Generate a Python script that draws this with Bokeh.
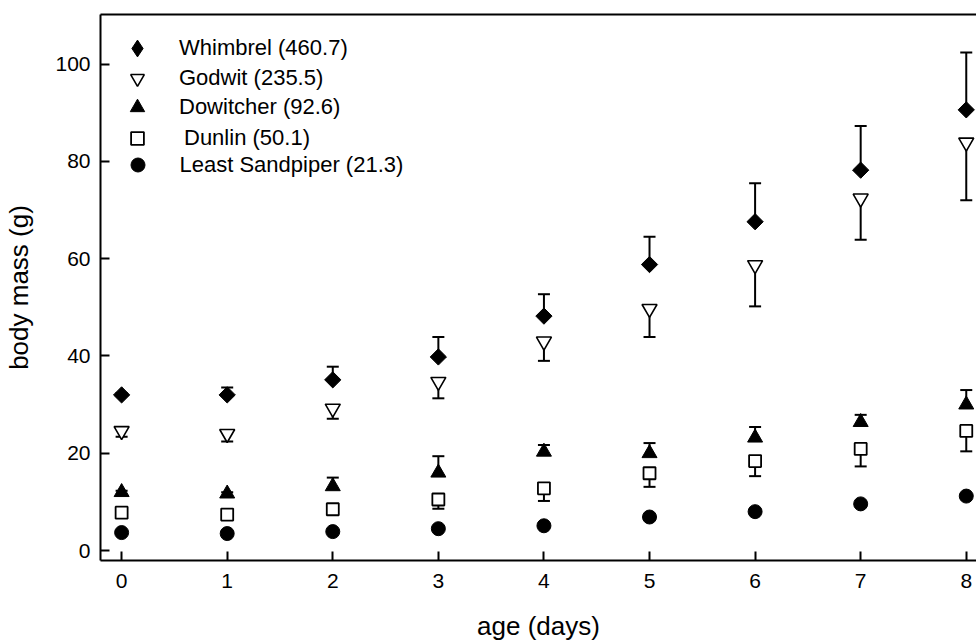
from bokeh.plotting import figure
from bokeh.models import (ColumnDataSource, Whisker, TeeHead, Legend, LegendItem,
                          LinearAxis, FixedTicker, Range1d)
from bokeh.embed import file_html
from bokeh.resources import INLINE

# Body mass (g) of shorebird chicks by age; adult mass in the legend
days = [0, 1, 2, 3, 4, 5, 6, 7, 8]

whimbrel = [32.0, 32.0, 35.1, 39.8, 48.2, 58.8, 67.6, 78.2, 90.6]
whimbrel_se = [0.4, 1.5, 2.7, 4.1, 4.5, 5.7, 7.9, 9.1, 11.8]

godwit = [24.6, 24.0, 29.2, 34.7, 43.0, 49.7, 58.7, 72.4, 83.9]
godwit_se = [1.2, 1.6, 2.1, 3.4, 4.0, 5.8, 8.5, 8.5, 11.9]

dowitcher = [12.0, 11.7, 13.2, 16.0, 20.3, 20.0, 23.2, 26.4, 30.0]
dowitcher_se = [0.3, 0.3, 1.8, 3.4, 1.4, 2.1, 2.2, 1.5, 3.0]

dunlin = [7.8, 7.4, 8.5, 10.5, 12.8, 15.9, 18.4, 20.9, 24.6]
dunlin_se = [0.3, 0.3, 1.2, 1.9, 2.6, 2.8, 3.1, 3.6, 4.2]

sandpiper = [3.7, 3.5, 3.9, 4.5, 5.1, 6.9, 8.0, 9.6, 11.2]

labels = ["Whimbrel (460.7)", "Godwit (235.5)", "Dowitcher (92.6)",
          "Dunlin (50.1)", "Least Sandpiper (21.3)"]

FONT = "Liberation Sans"

p = figure(width=976, height=643, output_backend="svg", toolbar_location=None,
           x_range=Range1d(-0.2, 8.097), y_range=Range1d(-2.04, 110.2),
           min_border_left=100, min_border_right=0, min_border_top=14,
           min_border_bottom=79)
p.outline_line_color = None
p.grid.visible = False
p.background_fill_color = "white"

# axes
p.xaxis.ticker = FixedTicker(ticks=days)
p.yaxis.ticker = FixedTicker(ticks=[0, 20, 40, 60, 80, 100])
for ax in (p.xaxis[0], p.yaxis[0]):
    ax.axis_line_width = 2
    ax.axis_line_color = "black"
    ax.major_tick_line_width = 2
    ax.major_tick_line_color = "black"
    ax.major_tick_in = 9
    ax.major_tick_out = 0
    ax.minor_tick_line_color = None
    ax.major_label_text_font = FONT
    ax.major_label_text_font_size = "21px"
    ax.major_label_text_color = "black"
    ax.axis_label_text_font = FONT
    ax.axis_label_text_font_size = "26px"
    ax.axis_label_text_font_style = "normal"
    ax.axis_label_text_color = "black"
p.xaxis.axis_label = "age (days)"
p.yaxis.axis_label = "body mass (g)"
p.xaxis.major_label_standoff = 13
p.xaxis.axis_label_standoff = 20
p.yaxis.major_label_standoff = 10
p.yaxis.axis_label_standoff = 18

top = LinearAxis(axis_line_width=2, axis_line_color="black",
                 major_tick_line_color=None, minor_tick_line_color=None,
                 major_label_text_font_size="0px", ticker=FixedTicker(ticks=[]))
p.add_layout(top, "above")


def bars(xs, lo, hi, up):
    src = ColumnDataSource(dict(x=xs, lower=lo, upper=hi))
    head = TeeHead(size=12, line_width=2, line_color="black")
    w = Whisker(base="x", lower="lower", upper="upper", source=src,
                dimension="height", line_width=2, line_color="black",
                level="underlay",
                upper_head=head if up else None,
                lower_head=None if up else head)
    p.add_layout(w)


# one-sided error bars: upward for the heavier pair, downward for the others
bars(days, whimbrel, [v + e for v, e in zip(whimbrel, whimbrel_se)], True)
bars(days, [v - e for v, e in zip(godwit, godwit_se)], godwit, False)
bars(days, dowitcher, [v + e for v, e in zip(dowitcher, dowitcher_se)], True)
bars(days, [v - e for v, e in zip(dunlin, dunlin_se)], dunlin, False)

# the legend draws markers unrotated, so the whimbrel key comes from a small
# diamond marker that sits hidden beneath each rotated square
k_wh = p.scatter(days, whimbrel, marker="diamond", size=10,
                 fill_color="black", line_color="black", line_width=1)
r_wh = p.scatter(days, whimbrel, marker="square", angle=0.785398, size=11.5,
                 fill_color="black", line_color="black", line_width=1)
r_go = p.scatter(days, godwit, marker="inverted_triangle", size=15,
                 fill_color="white", line_color="black", line_width=1.6)
r_do = p.scatter(days, dowitcher, marker="triangle", size=15,
                 fill_color="black", line_color="black", line_width=1)
r_du = p.scatter(days, dunlin, marker="square", size=12,
                 fill_color="white", line_color="black", line_width=1.8)
r_sa = p.scatter(days, sandpiper, marker="circle", size=14,
                 fill_color="black", line_color="black", line_width=1)

# one single-row legend per series so each key can be full size
rows = [  # (renderer, box, bottom offset from frame, label standoff)
    (k_wh, 42, 495, 25),
    (r_go, 34, 465, 25),
    (r_do, 36, 436, 25),
    (r_du, 32, 405, 30),
    (r_sa, 35, 378, 25),
]
for label, (rend, box, yb, standoff) in zip(labels, rows):
    lg = Legend(items=[LegendItem(label=label, renderers=[rend])],
                location=(137 - 100 - box / 2, yb + (35 - box) / 2),
                padding=0, margin=0, spacing=0,
                glyph_width=box, glyph_height=box, label_height=box,
                label_standoff=standoff + (35 - box) // 2,
                label_text_font=FONT, label_text_font_size="22px",
                label_text_color="black",
                border_line_color=None, background_fill_alpha=0)
    p.add_layout(lg, "center")

open("out.html", "w").write(file_html(p, INLINE))
